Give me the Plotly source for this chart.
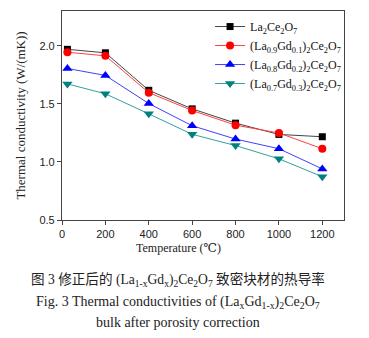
import plotly.graph_objects as go

temps = [25, 200, 400, 600, 800, 1000, 1200]
la2ce2o7 = [1.97, 1.94, 1.617, 1.457, 1.334, 1.237, 1.217]
gd01 = [1.945, 1.914, 1.597, 1.443, 1.317, 1.249, 1.114]
gd02 = [1.805, 1.745, 1.503, 1.312, 1.197, 1.114, 0.940]
gd03 = [1.672, 1.587, 1.414, 1.238, 1.141, 1.027, 0.873]

names = ["La<sub>2</sub>Ce<sub>2</sub>O<sub>7</sub>",
         "(La<sub>0.9</sub>Gd<sub>0.1</sub>)<sub>2</sub>Ce<sub>2</sub>O<sub>7</sub>",
         "(La<sub>0.8</sub>Gd<sub>0.2</sub>)<sub>2</sub>Ce<sub>2</sub>O<sub>7</sub>",
         "(La<sub>0.7</sub>Gd<sub>0.3</sub>)<sub>2</sub>Ce<sub>2</sub>O<sub>7</sub>"]
series = [la2ce2o7, gd01, gd02, gd03]
marker_colors = ["#000000", "#ff0000", "#0000ff", "#008080"]
line_colors = ["#444444", "#ff4040", "#4040ff", "#33a0a0"]
symbols = ["square", "circle", "triangle-up", "triangle-down"]
sizes = [7, 8, 9, 9]

serif = "Times New Roman, Liberation Serif, DejaVu Serif, serif"
sans = "Arial, Liberation Sans, DejaVu Sans, sans-serif"
cjk = "Times New Roman, Liberation Serif, Noto Sans CJK SC, serif"

fig = go.Figure()
for nm, ys, mc, lc, sy, sz in zip(names, series, marker_colors, line_colors, symbols, sizes):
    fig.add_trace(go.Scatter(x=temps, y=ys, name=nm, mode="lines+markers",
                             line=dict(color=lc, width=1),
                             marker=dict(color=mc, symbol=sy, size=sz)))

fig.update_layout(
    width=369, height=338,
    margin=dict(l=62, r=25, t=11, b=118),
    paper_bgcolor="white", plot_bgcolor="white",
    showlegend=True,
    legend=dict(x=0.525, y=0.995, xanchor="left", yanchor="top",
                font=dict(family=serif, size=12, color="#111"),
                bgcolor="rgba(0,0,0,0)", itemwidth=30),
    xaxis=dict(range=[0, 1300], tickvals=[0, 200, 400, 600, 800, 1000, 1200],
               ticks="outside", ticklen=4, tickcolor="#444",
               showline=True, linecolor="#444", linewidth=1.2, mirror=True,
               showgrid=False, zeroline=False,
               tickfont=dict(family=sans, size=11, color="#222")),
    yaxis=dict(range=[0.5, 2.3], tickvals=[0.5, 1.0, 1.5, 2.0], tickformat=".1f",
               ticks="outside", ticklen=4, tickcolor="#444",
               showline=True, linecolor="#444", linewidth=1.2, mirror=True,
               showgrid=False, zeroline=False,
               tickfont=dict(family=sans, size=11, color="#222"),
               title=dict(text="Thermal conductivity (W/(mK))",
                          font=dict(family=serif, size=13, color="#222"),
                          standoff=10)),
)

def py(ypix):
    return (220 - ypix) / 209

anns = [
    ("Temperature (℃)", 248, 12, serif),
    ("图 3 修正后的 (La<sub>1-x</sub>Gd<sub>x</sub>)<sub>2</sub>Ce<sub>2</sub>O<sub>7</sub> 致密块材的热导率", 280, 13.6, cjk),
    ("Fig. 3 Thermal conductivities of (La<sub>x</sub>Gd<sub>1-x</sub>)<sub>2</sub>Ce<sub>2</sub>O<sub>7</sub>", 302, 14, serif),
    ("bulk after porosity correction", 322, 14, serif),
]
for txt, yp, fs, fam in anns:
    fig.add_annotation(text=txt, xref="paper", yref="paper",
                       x=(178 - 62) / 282, y=py(yp), xanchor="center", yanchor="middle",
                       showarrow=False, font=dict(family=fam, size=fs, color="#222"))

fig.write_html("out.html")
